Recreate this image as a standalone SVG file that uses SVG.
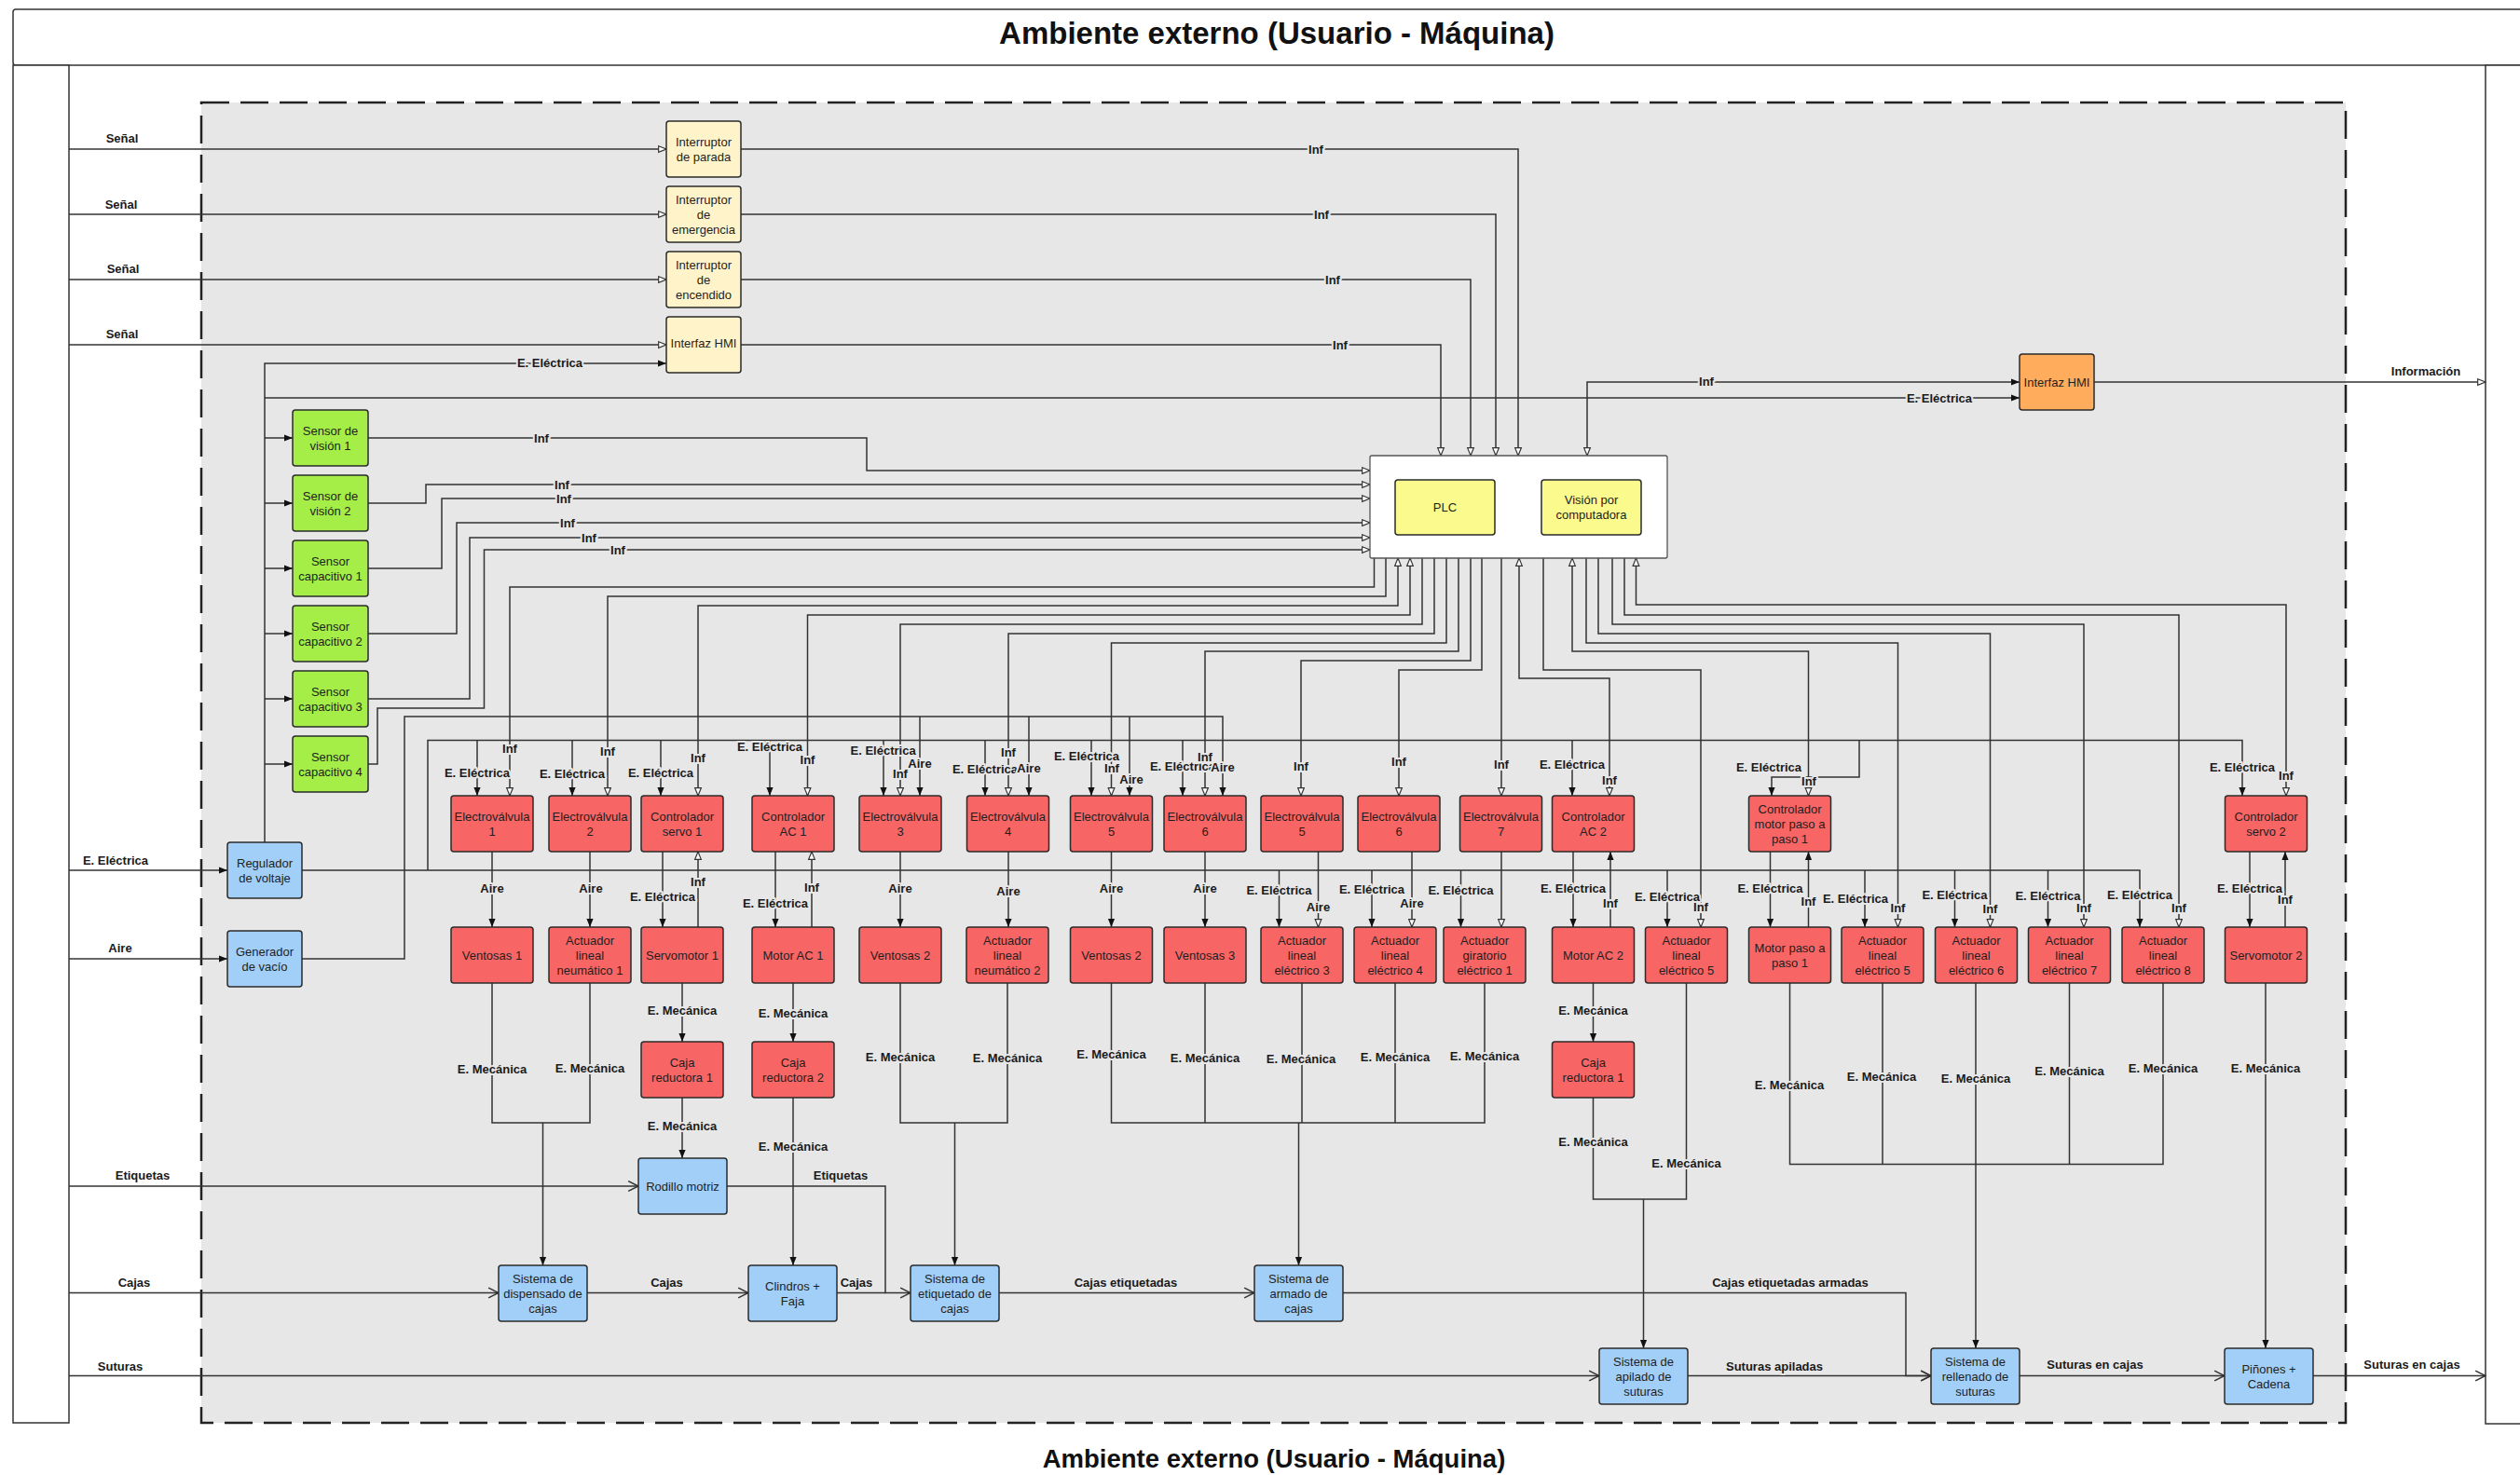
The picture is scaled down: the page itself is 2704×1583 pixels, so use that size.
<svg xmlns="http://www.w3.org/2000/svg" width="2704" height="1583" viewBox="0 0 2704 1583">
<defs>
<style>
.ln{fill:none;stroke:#333;stroke-width:1.5}
.bx{stroke:#2b2b2b;stroke-width:1.5}
.red{fill:#f76565}
.blu{fill:#a2cff7}
.grn{fill:#a4ee47}
.ylw{fill:#fff3c9}
.plc{fill:#fbfa8c}
.org{fill:#ffad5c}
.t{font-family:"Liberation Sans",Arial,sans-serif;font-size:13px;fill:#1e1e1e;text-anchor:middle}
.l{font-family:"Liberation Sans",Arial,sans-serif;font-size:13px;font-weight:bold;fill:#1a1a1a;text-anchor:middle;paint-order:stroke;stroke:#e7e7e7;stroke-width:4px;stroke-linejoin:round}
.lw{font-family:"Liberation Sans",Arial,sans-serif;font-size:13px;font-weight:bold;fill:#1a1a1a;text-anchor:middle}
.ttl{font-family:"Liberation Sans",Arial,sans-serif;font-weight:bold;fill:#111;text-anchor:middle}
</style>
<marker id="af" viewBox="0 0 10 10" refX="10" refY="5" markerWidth="9" markerHeight="9" markerUnits="userSpaceOnUse" orient="auto-start-reverse"><path d="M0,1 L10,5 L0,9 z" fill="#111"/></marker>
<marker id="ao" viewBox="0 0 12 12" refX="11" refY="6" markerWidth="10" markerHeight="10" markerUnits="userSpaceOnUse" orient="auto-start-reverse"><path d="M1,2 L11,6 L1,10 z" fill="#fff" stroke="#333" stroke-width="1.4"/></marker>
<marker id="av" viewBox="0 0 12 12" refX="11" refY="6" markerWidth="13" markerHeight="13" markerUnits="userSpaceOnUse" orient="auto"><path d="M1,1 L11,6 L1,11" fill="none" stroke="#333" stroke-width="1.4"/></marker>
</defs>

<rect width="2704" height="1583" fill="#fff"/>

<!-- outer environment frame -->
<g id="frame" fill="#fff" stroke="#333" stroke-width="1.5">
<rect x="14" y="10" width="2720" height="60" rx="3"/>
<rect x="14" y="70" width="60" height="1457"/>
<rect x="2667" y="70" width="60" height="1458"/>
</g>
<text class="ttl" x="1370" y="47" font-size="33">Ambiente externo (Usuario - Máquina)</text>
<text class="ttl" x="1367" y="1575" font-size="27.5">Ambiente externo (Usuario - Máquina)</text>

<!-- machine boundary -->
<rect id="machine" x="216" y="110" width="2301" height="1417" fill="#e7e7e7" stroke="#222" stroke-width="2.5" stroke-dasharray="30 12"/>

<g id="connectors">
<!-- external inputs -->
<path class="ln" d="M74,160 H715" marker-end="url(#ao)"/>
<path class="ln" d="M74,230 H715" marker-end="url(#ao)"/>
<path class="ln" d="M74,300 H715" marker-end="url(#ao)"/>
<path class="ln" d="M74,370 H715" marker-end="url(#ao)"/>
<path class="ln" d="M74,934 H244" marker-end="url(#af)"/>
<path class="ln" d="M74,1029 H244" marker-end="url(#af)"/>
<path class="ln" d="M74,1273 H685" marker-end="url(#av)"/>
<path class="ln" d="M74,1387.5 H535" marker-end="url(#av)"/>
<path class="ln" d="M74,1476.5 H1716" marker-end="url(#av)"/>

<!-- switches to PLC -->
<path class="ln" d="M795,160 H1629 V489" marker-end="url(#ao)"/>
<path class="ln" d="M795,230 H1605 V489" marker-end="url(#ao)"/>
<path class="ln" d="M795,300 H1578 V489" marker-end="url(#ao)"/>
<path class="ln" d="M795,370 H1546 V489" marker-end="url(#ao)"/>

<!-- power distribution -->
<path class="ln" d="M284,904 V390 H715" marker-end="url(#af)"/>
<path class="ln" d="M284,427 H2167" marker-end="url(#af)"/>
<path class="ln" d="M284,470 H314" marker-end="url(#af)"/>
<path class="ln" d="M284,540 H314" marker-end="url(#af)"/>
<path class="ln" d="M284,610 H314" marker-end="url(#af)"/>
<path class="ln" d="M284,680 H314" marker-end="url(#af)"/>
<path class="ln" d="M284,750 H314" marker-end="url(#af)"/>
<path class="ln" d="M284,820 H314" marker-end="url(#af)"/>
<path class="ln" d="M324,934 H2296 V995" marker-end="url(#af)"/>
<path class="ln" d="M459,934 V794.5 H2406 V854" marker-end="url(#af)"/>
<path class="ln" d="M324,1029 H434 V769 H1312 V854" marker-end="url(#af)"/>

<!-- HMI -->
<path class="ln" d="M1703,489 V410 H2167" marker-start="url(#ao)" marker-end="url(#af)"/>
<path class="ln" d="M2247,410 H2667" marker-end="url(#ao)"/>
<path class="ln" d="M1604,544 H1654" marker-start="url(#ao)" marker-end="url(#ao)"/>

<!-- sensors to PLC -->
<path class="ln" d="M395,470 H930 V505 H1470" marker-end="url(#ao)"/>
<path class="ln" d="M395,540 H457 V520 H1470" marker-end="url(#ao)"/>
<path class="ln" d="M395,610 H474 V535 H1470" marker-end="url(#ao)"/>
<path class="ln" d="M395,680 H490 V561 H1470" marker-end="url(#ao)"/>
<path class="ln" d="M395,750 H504 V577 H1470" marker-end="url(#ao)"/>
<path class="ln" d="M395,820 H405 V760 H519.5 V590 H1470" marker-end="url(#ao)"/>

<!-- PLC to actuators -->
<path class="ln" d="M1474.5,599 V630 H547 V854" marker-end="url(#ao)"/>
<path class="ln" d="M1487,599 V640 H652 V854" marker-end="url(#ao)"/>
<path class="ln" d="M1500,599 V650 H749 V854" marker-start="url(#ao)" marker-end="url(#ao)"/>
<path class="ln" d="M1513,599 V660 H866.5 V854" marker-start="url(#ao)" marker-end="url(#ao)"/>
<path class="ln" d="M1526,599 V670 H966 V854" marker-end="url(#ao)"/>
<path class="ln" d="M1539,599 V680 H1082 V854" marker-end="url(#ao)"/>
<path class="ln" d="M1552,599 V690 H1192.5 V854" marker-end="url(#ao)"/>
<path class="ln" d="M1565,599 V699 H1293 V854" marker-end="url(#ao)"/>
<path class="ln" d="M1578,599 V709 H1396 V854" marker-end="url(#ao)"/>
<path class="ln" d="M1590,599 V719 H1501 V854" marker-end="url(#ao)"/>
<path class="ln" d="M1611,599 V854" marker-end="url(#ao)"/>
<path class="ln" d="M1630,599 V728 H1727 V854" marker-start="url(#ao)" marker-end="url(#ao)"/>
<path class="ln" d="M1656,599 V719 H1825 V995" marker-end="url(#ao)"/>
<path class="ln" d="M1687,599 V699 H1940.5 V854" marker-start="url(#ao)" marker-end="url(#ao)"/>
<path class="ln" d="M1702,599 V690 H2036.5 V995" marker-end="url(#ao)"/>
<path class="ln" d="M1715,599 V680 H2135.5 V995" marker-end="url(#ao)"/>
<path class="ln" d="M1730,599 V670 H2236 V995" marker-end="url(#ao)"/>
<path class="ln" d="M1743,599 V660 H2338 V995" marker-end="url(#ao)"/>
<path class="ln" d="M1755.5,599 V649 H2453 V854" marker-start="url(#ao)" marker-end="url(#ao)"/>

<!-- electric feed to first row -->
<path class="ln" d="M512,794.5 V854" marker-end="url(#af)"/>
<path class="ln" d="M614,794.5 V854" marker-end="url(#af)"/>
<path class="ln" d="M709,794.5 V854" marker-end="url(#af)"/>
<path class="ln" d="M826,794.5 V854" marker-end="url(#af)"/>
<path class="ln" d="M948,794.5 V854" marker-end="url(#af)"/>
<path class="ln" d="M1057,794.5 V854" marker-end="url(#af)"/>
<path class="ln" d="M1171,794.5 V854" marker-end="url(#af)"/>
<path class="ln" d="M1269,794.5 V854" marker-end="url(#af)"/>
<path class="ln" d="M1687,794.5 V854" marker-end="url(#af)"/>
<path class="ln" d="M1995,794.5 V834 H1901 V854" marker-end="url(#af)"/>
<!-- air feed to valves -->
<path class="ln" d="M987,769 V854" marker-end="url(#af)"/>
<path class="ln" d="M1104,769 V854" marker-end="url(#af)"/>
<path class="ln" d="M1212,769 V854" marker-end="url(#af)"/>

<!-- first row to second row -->
<path class="ln" d="M528,914 V995" marker-end="url(#af)"/>
<path class="ln" d="M633,914 V995" marker-end="url(#af)"/>
<path class="ln" d="M711,914 V995" marker-end="url(#af)"/>
<path class="ln" d="M749,995 V914" marker-end="url(#ao)"/>
<path class="ln" d="M832,914 V995" marker-end="url(#af)"/>
<path class="ln" d="M871,995 V914" marker-end="url(#ao)"/>
<path class="ln" d="M966,914 V995" marker-end="url(#af)"/>
<path class="ln" d="M1082,914 V995" marker-end="url(#af)"/>
<path class="ln" d="M1192.5,914 V995" marker-end="url(#af)"/>
<path class="ln" d="M1293,914 V995" marker-end="url(#af)"/>
<path class="ln" d="M1414.5,914 V995" marker-end="url(#ao)"/>
<path class="ln" d="M1515,914 V995" marker-end="url(#ao)"/>
<path class="ln" d="M1611,914 V995" marker-end="url(#ao)"/>
<path class="ln" d="M1688,914 V995" marker-end="url(#af)"/>
<path class="ln" d="M1728,995 V914" marker-end="url(#af)"/>
<path class="ln" d="M1899.5,914 V995" marker-end="url(#af)"/>
<path class="ln" d="M1940.5,995 V914" marker-end="url(#af)"/>
<path class="ln" d="M2414,914 V995" marker-end="url(#af)"/>
<path class="ln" d="M2452,995 V914" marker-end="url(#af)"/>
<path class="ln" d="M1372.5,934 V995" marker-end="url(#af)"/>
<path class="ln" d="M1472,934 V995" marker-end="url(#af)"/>
<path class="ln" d="M1567.5,934 V995" marker-end="url(#af)"/>
<path class="ln" d="M1789,934 V995" marker-end="url(#af)"/>
<path class="ln" d="M2001,934 V995" marker-end="url(#af)"/>
<path class="ln" d="M2097.5,934 V995" marker-end="url(#af)"/>
<path class="ln" d="M2197.5,934 V995" marker-end="url(#af)"/>

<!-- mechanical energy -->
<path class="ln" d="M528,1055 V1205 H633 V1055"/>
<path class="ln" d="M582.5,1205 V1358" marker-end="url(#af)"/>
<path class="ln" d="M732,1055 V1118" marker-end="url(#af)"/>
<path class="ln" d="M732,1178 V1243" marker-end="url(#af)"/>
<path class="ln" d="M851,1055 V1118" marker-end="url(#af)"/>
<path class="ln" d="M851,1178 V1358" marker-end="url(#af)"/>
<path class="ln" d="M966,1055 V1205 H1081 V1055"/>
<path class="ln" d="M1024.5,1205 V1358" marker-end="url(#af)"/>
<path class="ln" d="M1192.5,1055 V1205 H1593 V1055"/>
<path class="ln" d="M1293,1055 V1205 M1397,1055 V1205 M1497,1055 V1205"/>
<path class="ln" d="M1393.5,1205 V1358" marker-end="url(#af)"/>
<path class="ln" d="M1709.5,1055 V1118" marker-end="url(#af)"/>
<path class="ln" d="M1709.5,1178 V1287 H1809.5 V1055"/>
<path class="ln" d="M1763.5,1287 V1447" marker-end="url(#af)"/>
<path class="ln" d="M1920.5,1055 V1249.5 H2321 V1055"/>
<path class="ln" d="M2020,1055 V1249.5 M2220.5,1055 V1249.5"/>
<path class="ln" d="M2120,1055 V1447" marker-end="url(#af)"/>
<path class="ln" d="M2431,1055 V1447" marker-end="url(#af)"/>

<!-- material flow -->
<path class="ln" d="M780,1273 H950 V1387.5 H977" marker-end="url(#av)"/>
<path class="ln" d="M630,1387.5 H803" marker-end="url(#av)"/>
<path class="ln" d="M898,1387.5 H950"/>
<path class="ln" d="M1072,1387.5 H1346" marker-end="url(#av)"/>
<path class="ln" d="M1441,1387.5 H2045 V1476.5 H2072" marker-end="url(#av)"/>
<path class="ln" d="M1811,1476.5 H2072" marker-end="url(#av)"/>
<path class="ln" d="M2167,1476.5 H2387" marker-end="url(#av)"/>
<path class="ln" d="M2482,1476.5 H2667" marker-end="url(#av)"/>
</g>

<g id="labels">
<text class="lw" x="131" y="153">Señal</text>
<text class="lw" x="130" y="223.5">Señal</text>
<text class="lw" x="132" y="293">Señal</text>
<text class="lw" x="131" y="362.5">Señal</text>
<text class="lw" x="124" y="928">E. Eléctrica</text>
<text class="lw" x="129" y="1022">Aire</text>
<text class="lw" x="153" y="1265.5">Etiquetas</text>
<text class="lw" x="144" y="1380.5">Cajas</text>
<text class="lw" x="129" y="1470.5">Suturas</text>
<text class="lw" x="2603" y="402.5">Información</text>
<text class="lw" x="2588" y="1469">Suturas en cajas</text>

<text class="l" x="590" y="393.5">E. Eléctrica</text>
<text class="l" x="1412" y="164.5">Inf</text>
<text class="l" x="1418" y="234.5">Inf</text>
<text class="l" x="1430" y="304.5">Inf</text>
<text class="l" x="1438" y="374.5">Inf</text>
<text class="l" x="1831" y="414">Inf</text>
<text class="l" x="2081" y="431.5">E. Eléctrica</text>
<text class="l" x="581" y="474.5">Inf</text>
<text class="l" x="603" y="524.5">Inf</text>
<text class="l" x="605" y="539.5">Inf</text>
<text class="l" x="609" y="565.5">Inf</text>
<text class="l" x="632" y="581.5">Inf</text>
<text class="l" x="663" y="594.5">Inf</text>
<text class="l" x="1629" y="548.5" stroke="#fff">Inf</text>

<text class="l" x="512" y="833.5">E. Eléctrica</text>
<text class="l" x="547" y="807.5">Inf</text>
<text class="l" x="614" y="835">E. Eléctrica</text>
<text class="l" x="652" y="811">Inf</text>
<text class="l" x="709" y="833.5">E. Eléctrica</text>
<text class="l" x="749" y="818">Inf</text>
<text class="l" x="826" y="805.5">E. Eléctrica</text>
<text class="l" x="866.5" y="819.5">Inf</text>
<text class="l" x="947.6" y="809.5">E. Eléctrica</text>
<text class="l" x="966" y="834.5">Inf</text>
<text class="l" x="987" y="824">Aire</text>
<text class="l" x="1057" y="829.5">E. Eléctrica</text>
<text class="l" x="1082" y="812">Inf</text>
<text class="l" x="1104" y="828.5">Aire</text>
<text class="l" x="1166" y="816">E. Eléctrica</text>
<text class="l" x="1193" y="829">Inf</text>
<text class="l" x="1214" y="841">Aire</text>
<text class="l" x="1269" y="826.5">E. Eléctrica</text>
<text class="l" x="1293" y="816.5">Inf</text>
<text class="l" x="1312" y="827.5">Aire</text>
<text class="l" x="1396" y="826.5">Inf</text>
<text class="l" x="1501" y="821.5">Inf</text>
<text class="l" x="1611" y="824.5">Inf</text>
<text class="l" x="1687" y="824.5">E. Eléctrica</text>
<text class="l" x="1727" y="841.5">Inf</text>
<text class="l" x="1898" y="828">E. Eléctrica</text>
<text class="l" x="1941" y="843">Inf</text>
<text class="l" x="2406" y="827.5">E. Eléctrica</text>
<text class="l" x="2453" y="836.5">Inf</text>

<text class="l" x="528" y="957.5">Aire</text>
<text class="l" x="634" y="957.5">Aire</text>
<text class="l" x="711" y="966.5">E. Eléctrica</text>
<text class="l" x="749" y="950.5">Inf</text>
<text class="l" x="832" y="973.5">E. Eléctrica</text>
<text class="l" x="871" y="956.5">Inf</text>
<text class="l" x="966" y="957.5">Aire</text>
<text class="l" x="1082" y="961">Aire</text>
<text class="l" x="1192.5" y="957.5">Aire</text>
<text class="l" x="1293" y="957.5">Aire</text>
<text class="l" x="1372.5" y="960">E. Eléctrica</text>
<text class="l" x="1414.5" y="977.5">Aire</text>
<text class="l" x="1472" y="959">E. Eléctrica</text>
<text class="l" x="1515" y="974">Aire</text>
<text class="l" x="1567.5" y="960">E. Eléctrica</text>
<text class="l" x="1688" y="957.5">E. Eléctrica</text>
<text class="l" x="1728" y="973.5">Inf</text>
<text class="l" x="1789" y="966.5">E. Eléctrica</text>
<text class="l" x="1825" y="977.5">Inf</text>
<text class="l" x="1899.5" y="957.5">E. Eléctrica</text>
<text class="l" x="1940.5" y="971.5">Inf</text>
<text class="l" x="1991" y="968.5">E. Eléctrica</text>
<text class="l" x="2036.5" y="978.5">Inf</text>
<text class="l" x="2097.5" y="964.5">E. Eléctrica</text>
<text class="l" x="2135.5" y="979.5">Inf</text>
<text class="l" x="2197.5" y="965.5">E. Eléctrica</text>
<text class="l" x="2236" y="979">Inf</text>
<text class="l" x="2296" y="964.5">E. Eléctrica</text>
<text class="l" x="2338" y="979">Inf</text>
<text class="l" x="2414" y="957.5">E. Eléctrica</text>
<text class="l" x="2452" y="969.5">Inf</text>

<text class="l" x="528" y="1152">E. Mecánica</text>
<text class="l" x="633" y="1150.5">E. Mecánica</text>
<text class="l" x="732" y="1088.5">E. Mecánica</text>
<text class="l" x="732" y="1213">E. Mecánica</text>
<text class="l" x="851" y="1091.5">E. Mecánica</text>
<text class="l" x="851" y="1234.5">E. Mecánica</text>
<text class="l" x="966" y="1138.5">E. Mecánica</text>
<text class="l" x="1081" y="1140">E. Mecánica</text>
<text class="l" x="1192.5" y="1136">E. Mecánica</text>
<text class="l" x="1293" y="1140">E. Mecánica</text>
<text class="l" x="1396" y="1141">E. Mecánica</text>
<text class="l" x="1497" y="1138.5">E. Mecánica</text>
<text class="l" x="1593" y="1137.5">E. Mecánica</text>
<text class="l" x="1709.5" y="1088.5">E. Mecánica</text>
<text class="l" x="1709.5" y="1229.5">E. Mecánica</text>
<text class="l" x="1809.5" y="1252.5">E. Mecánica</text>
<text class="l" x="1920" y="1168.5">E. Mecánica</text>
<text class="l" x="2019" y="1159.5">E. Mecánica</text>
<text class="l" x="2120" y="1161.5">E. Mecánica</text>
<text class="l" x="2220.5" y="1153.5">E. Mecánica</text>
<text class="l" x="2321" y="1150.5">E. Mecánica</text>
<text class="l" x="2431" y="1150.5">E. Mecánica</text>

<text class="l" x="902" y="1265.5">Etiquetas</text>
<text class="l" x="715.5" y="1380.5">Cajas</text>
<text class="l" x="919" y="1380.5">Cajas</text>
<text class="l" x="1208" y="1380.5">Cajas etiquetadas</text>
<text class="l" x="1921" y="1380.5">Cajas etiquetadas armadas</text>
<text class="l" x="1904" y="1470.5">Suturas apiladas</text>
<text class="l" x="2248" y="1469">Suturas en cajas</text>
</g>

<!-- operator inputs -->
<g id="int-parada"><rect class="bx ylw" x="715" y="130" width="80" height="60" rx="3"/><text class="t"><tspan x="755" y="156.5">Interruptor</tspan><tspan x="755" y="172.5">de parada</tspan></text></g>
<g id="int-emergencia"><rect class="bx ylw" x="715" y="200" width="80" height="60" rx="3"/><text class="t"><tspan x="755" y="218.5">Interruptor</tspan><tspan x="755" y="234.5">de</tspan><tspan x="755" y="250.5">emergencia</tspan></text></g>
<g id="int-encendido"><rect class="bx ylw" x="715" y="270" width="80" height="60" rx="3"/><text class="t"><tspan x="755" y="288.5">Interruptor</tspan><tspan x="755" y="304.5">de</tspan><tspan x="755" y="320.5">encendido</tspan></text></g>
<g id="hmi-in"><rect class="bx ylw" x="715" y="340" width="80" height="60" rx="3"/><text class="t" x="755" y="373">Interfaz HMI</text></g>

<!-- sensors -->
<g id="sv1"><rect class="bx grn" x="314" y="440" width="81" height="60" rx="3"/><text class="t"><tspan x="354.5" y="466.5">Sensor de</tspan><tspan x="354.5" y="482.5">visión 1</tspan></text></g>
<g id="sv2"><rect class="bx grn" x="314" y="510" width="81" height="60" rx="3"/><text class="t"><tspan x="354.5" y="536.5">Sensor de</tspan><tspan x="354.5" y="552.5">visión 2</tspan></text></g>
<g id="sc1"><rect class="bx grn" x="314" y="580" width="81" height="60" rx="3"/><text class="t"><tspan x="354.5" y="606.5">Sensor</tspan><tspan x="354.5" y="622.5">capacitivo 1</tspan></text></g>
<g id="sc2"><rect class="bx grn" x="314" y="650" width="81" height="60" rx="3"/><text class="t"><tspan x="354.5" y="676.5">Sensor</tspan><tspan x="354.5" y="692.5">capacitivo 2</tspan></text></g>
<g id="sc3"><rect class="bx grn" x="314" y="720" width="81" height="60" rx="3"/><text class="t"><tspan x="354.5" y="746.5">Sensor</tspan><tspan x="354.5" y="762.5">capacitivo 3</tspan></text></g>
<g id="sc4"><rect class="bx grn" x="314" y="790" width="81" height="60" rx="3"/><text class="t"><tspan x="354.5" y="816.5">Sensor</tspan><tspan x="354.5" y="832.5">capacitivo 4</tspan></text></g>

<!-- control unit -->
<g id="control"><rect x="1470" y="489" width="319" height="110" fill="#fff" stroke="#555" stroke-width="1.3" rx="2"/></g>
<g id="plc"><rect class="bx plc" x="1497" y="515" width="107" height="59" rx="3"/><text class="t" x="1550.5" y="549">PLC</text></g>
<g id="vision"><rect class="bx plc" x="1654" y="515" width="107" height="59" rx="3"/><text class="t"><tspan x="1707.5" y="541">Visión por</tspan><tspan x="1707.5" y="557">computadora</tspan></text></g>
<g id="hmi-out"><rect class="bx org" x="2167" y="380" width="80" height="60" rx="3"/><text class="t" x="2207" y="414.5">Interfaz HMI</text></g>

<!-- supply -->
<g id="regulador"><rect class="bx blu" x="244" y="904" width="80" height="60" rx="3"/><text class="t"><tspan x="284" y="930.5">Regulador</tspan><tspan x="284" y="946.5">de voltaje</tspan></text></g>
<g id="generador"><rect class="bx blu" x="244" y="999" width="80" height="60" rx="3"/><text class="t"><tspan x="284" y="1025.5">Generador</tspan><tspan x="284" y="1041.5">de vacío</tspan></text></g>

<!-- first row: valves and drivers -->
<g id="ev1"><rect class="bx red" x="484" y="854" width="88" height="60" rx="3"/><text class="t"><tspan x="528" y="880.5">Electroválvula</tspan><tspan x="528" y="896.5">1</tspan></text></g>
<g id="ev2"><rect class="bx red" x="589" y="854" width="88" height="60" rx="3"/><text class="t"><tspan x="633" y="880.5">Electroválvula</tspan><tspan x="633" y="896.5">2</tspan></text></g>
<g id="cs1"><rect class="bx red" x="688" y="854" width="88" height="60" rx="3"/><text class="t"><tspan x="732" y="880.5">Controlador</tspan><tspan x="732" y="896.5">servo 1</tspan></text></g>
<g id="cac1"><rect class="bx red" x="807" y="854" width="88" height="60" rx="3"/><text class="t"><tspan x="851" y="880.5">Controlador</tspan><tspan x="851" y="896.5">AC 1</tspan></text></g>
<g id="ev3"><rect class="bx red" x="922" y="854" width="88" height="60" rx="3"/><text class="t"><tspan x="966" y="880.5">Electroválvula</tspan><tspan x="966" y="896.5">3</tspan></text></g>
<g id="ev4"><rect class="bx red" x="1037.5" y="854" width="88" height="60" rx="3"/><text class="t"><tspan x="1081.5" y="880.5">Electroválvula</tspan><tspan x="1081.5" y="896.5">4</tspan></text></g>
<g id="ev5"><rect class="bx red" x="1148.5" y="854" width="88" height="60" rx="3"/><text class="t"><tspan x="1192.5" y="880.5">Electroválvula</tspan><tspan x="1192.5" y="896.5">5</tspan></text></g>
<g id="ev6"><rect class="bx red" x="1249" y="854" width="88" height="60" rx="3"/><text class="t"><tspan x="1293" y="880.5">Electroválvula</tspan><tspan x="1293" y="896.5">6</tspan></text></g>
<g id="ev5b"><rect class="bx red" x="1353" y="854" width="88" height="60" rx="3"/><text class="t"><tspan x="1397" y="880.5">Electroválvula</tspan><tspan x="1397" y="896.5">5</tspan></text></g>
<g id="ev6b"><rect class="bx red" x="1457" y="854" width="88" height="60" rx="3"/><text class="t"><tspan x="1501" y="880.5">Electroválvula</tspan><tspan x="1501" y="896.5">6</tspan></text></g>
<g id="ev7"><rect class="bx red" x="1566.5" y="854" width="88" height="60" rx="3"/><text class="t"><tspan x="1610.5" y="880.5">Electroválvula</tspan><tspan x="1610.5" y="896.5">7</tspan></text></g>
<g id="cac2"><rect class="bx red" x="1665.5" y="854" width="88" height="60" rx="3"/><text class="t"><tspan x="1709.5" y="880.5">Controlador</tspan><tspan x="1709.5" y="896.5">AC 2</tspan></text></g>
<g id="cmpp1"><rect class="bx red" x="1876.5" y="854" width="88" height="60" rx="3"/><text class="t"><tspan x="1920.5" y="872.5">Controlador</tspan><tspan x="1920.5" y="888.5">motor paso a</tspan><tspan x="1920.5" y="904.5">paso 1</tspan></text></g>
<g id="cs2"><rect class="bx red" x="2387.5" y="854" width="88" height="60" rx="3"/><text class="t"><tspan x="2431.5" y="880.5">Controlador</tspan><tspan x="2431.5" y="896.5">servo 2</tspan></text></g>

<!-- second row: actuators -->
<g id="vent1"><rect class="bx red" x="484" y="995" width="88" height="60" rx="3"/><text class="t" x="528" y="1029.5">Ventosas 1</text></g>
<g id="aln1"><rect class="bx red" x="589" y="995" width="88" height="60" rx="3"/><text class="t"><tspan x="633" y="1013.5">Actuador</tspan><tspan x="633" y="1029.5">lineal</tspan><tspan x="633" y="1045.5">neumático 1</tspan></text></g>
<g id="servo1"><rect class="bx red" x="688" y="995" width="88" height="60" rx="3"/><text class="t" x="732" y="1029.5">Servomotor 1</text></g>
<g id="mac1"><rect class="bx red" x="807" y="995" width="88" height="60" rx="3"/><text class="t" x="851" y="1029.5">Motor AC 1</text></g>
<g id="vent2"><rect class="bx red" x="922" y="995" width="88" height="60" rx="3"/><text class="t" x="966" y="1029.5">Ventosas 2</text></g>
<g id="aln2"><rect class="bx red" x="1037" y="995" width="88" height="60" rx="3"/><text class="t"><tspan x="1081" y="1013.5">Actuador</tspan><tspan x="1081" y="1029.5">lineal</tspan><tspan x="1081" y="1045.5">neumático 2</tspan></text></g>
<g id="vent2b"><rect class="bx red" x="1148.5" y="995" width="88" height="60" rx="3"/><text class="t" x="1192.5" y="1029.5">Ventosas 2</text></g>
<g id="vent3"><rect class="bx red" x="1249" y="995" width="88" height="60" rx="3"/><text class="t" x="1293" y="1029.5">Ventosas 3</text></g>
<g id="ale3"><rect class="bx red" x="1353" y="995" width="88" height="60" rx="3"/><text class="t"><tspan x="1397" y="1013.5">Actuador</tspan><tspan x="1397" y="1029.5">lineal</tspan><tspan x="1397" y="1045.5">eléctrico 3</tspan></text></g>
<g id="ale4"><rect class="bx red" x="1453" y="995" width="88" height="60" rx="3"/><text class="t"><tspan x="1497" y="1013.5">Actuador</tspan><tspan x="1497" y="1029.5">lineal</tspan><tspan x="1497" y="1045.5">eléctrico 4</tspan></text></g>
<g id="age1"><rect class="bx red" x="1549" y="995" width="88" height="60" rx="3"/><text class="t"><tspan x="1593" y="1013.5">Actuador</tspan><tspan x="1593" y="1029.5">giratorio</tspan><tspan x="1593" y="1045.5">eléctrico 1</tspan></text></g>
<g id="mac2"><rect class="bx red" x="1665.5" y="995" width="88" height="60" rx="3"/><text class="t" x="1709.5" y="1029.5">Motor AC 2</text></g>
<g id="ale5"><rect class="bx red" x="1765.5" y="995" width="88" height="60" rx="3"/><text class="t"><tspan x="1809.5" y="1013.5">Actuador</tspan><tspan x="1809.5" y="1029.5">lineal</tspan><tspan x="1809.5" y="1045.5">eléctrico 5</tspan></text></g>
<g id="mpp1"><rect class="bx red" x="1876.5" y="995" width="88" height="60" rx="3"/><text class="t"><tspan x="1920.5" y="1021.5">Motor paso a</tspan><tspan x="1920.5" y="1037.5">paso 1</tspan></text></g>
<g id="ale5b"><rect class="bx red" x="1976" y="995" width="88" height="60" rx="3"/><text class="t"><tspan x="2020" y="1013.5">Actuador</tspan><tspan x="2020" y="1029.5">lineal</tspan><tspan x="2020" y="1045.5">eléctrico 5</tspan></text></g>
<g id="ale6"><rect class="bx red" x="2076.5" y="995" width="88" height="60" rx="3"/><text class="t"><tspan x="2120.5" y="1013.5">Actuador</tspan><tspan x="2120.5" y="1029.5">lineal</tspan><tspan x="2120.5" y="1045.5">eléctrico 6</tspan></text></g>
<g id="ale7"><rect class="bx red" x="2176.5" y="995" width="88" height="60" rx="3"/><text class="t"><tspan x="2220.5" y="1013.5">Actuador</tspan><tspan x="2220.5" y="1029.5">lineal</tspan><tspan x="2220.5" y="1045.5">eléctrico 7</tspan></text></g>
<g id="ale8"><rect class="bx red" x="2277" y="995" width="88" height="60" rx="3"/><text class="t"><tspan x="2321" y="1013.5">Actuador</tspan><tspan x="2321" y="1029.5">lineal</tspan><tspan x="2321" y="1045.5">eléctrico 8</tspan></text></g>
<g id="servo2"><rect class="bx red" x="2387.5" y="995" width="88" height="60" rx="3"/><text class="t" x="2431.5" y="1029.5">Servomotor 2</text></g>

<!-- gearboxes -->
<g id="cr1"><rect class="bx red" x="688" y="1118" width="88" height="60" rx="3"/><text class="t"><tspan x="732" y="1144.5">Caja</tspan><tspan x="732" y="1160.5">reductora 1</tspan></text></g>
<g id="cr2"><rect class="bx red" x="807" y="1118" width="88" height="60" rx="3"/><text class="t"><tspan x="851" y="1144.5">Caja</tspan><tspan x="851" y="1160.5">reductora 2</tspan></text></g>
<g id="cr1b"><rect class="bx red" x="1665.5" y="1118" width="88" height="60" rx="3"/><text class="t"><tspan x="1709.5" y="1144.5">Caja</tspan><tspan x="1709.5" y="1160.5">reductora 1</tspan></text></g>

<!-- process subsystems -->
<g id="rodillo"><rect class="bx blu" x="685" y="1243" width="95" height="60" rx="3"/><text class="t" x="732.5" y="1277.5">Rodillo motriz</text></g>
<g id="dispensado"><rect class="bx blu" x="535" y="1358" width="95" height="60" rx="3"/><text class="t"><tspan x="582.5" y="1376.5">Sistema de</tspan><tspan x="582.5" y="1392.5">dispensado de</tspan><tspan x="582.5" y="1408.5">cajas</tspan></text></g>
<g id="cilindros"><rect class="bx blu" x="803" y="1358" width="95" height="60" rx="3"/><text class="t"><tspan x="850.5" y="1384.5">Clindros +</tspan><tspan x="850.5" y="1400.5">Faja</tspan></text></g>
<g id="etiquetado"><rect class="bx blu" x="977" y="1358" width="95" height="60" rx="3"/><text class="t"><tspan x="1024.5" y="1376.5">Sistema de</tspan><tspan x="1024.5" y="1392.5">etiquetado de</tspan><tspan x="1024.5" y="1408.5">cajas</tspan></text></g>
<g id="armado"><rect class="bx blu" x="1346" y="1358" width="95" height="60" rx="3"/><text class="t"><tspan x="1393.5" y="1376.5">Sistema de</tspan><tspan x="1393.5" y="1392.5">armado de</tspan><tspan x="1393.5" y="1408.5">cajas</tspan></text></g>
<g id="apilado"><rect class="bx blu" x="1716" y="1447" width="95" height="60" rx="3"/><text class="t"><tspan x="1763.5" y="1465.5">Sistema de</tspan><tspan x="1763.5" y="1481.5">apilado de</tspan><tspan x="1763.5" y="1497.5">suturas</tspan></text></g>
<g id="rellenado"><rect class="bx blu" x="2072" y="1447" width="95" height="60" rx="3"/><text class="t"><tspan x="2119.5" y="1465.5">Sistema de</tspan><tspan x="2119.5" y="1481.5">rellenado de</tspan><tspan x="2119.5" y="1497.5">suturas</tspan></text></g>
<g id="pinones"><rect class="bx blu" x="2387" y="1447" width="95" height="60" rx="3"/><text class="t"><tspan x="2434.5" y="1473.5">Piñones +</tspan><tspan x="2434.5" y="1489.5">Cadena</tspan></text></g>
</svg>
